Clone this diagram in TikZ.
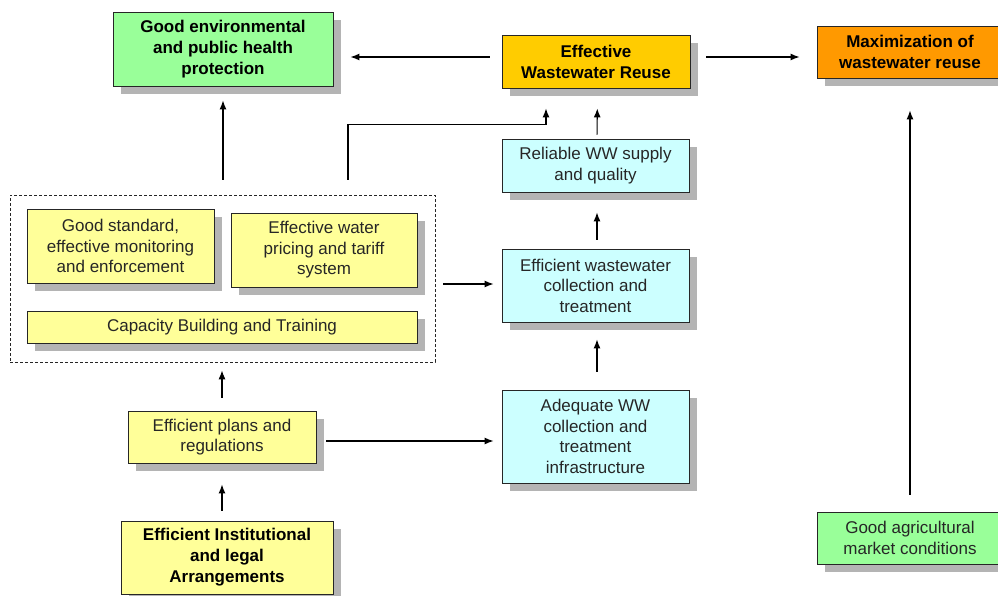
\documentclass[tikz,border=0pt]{standalone}
\usepackage{fontspec}
\setmainfont{Liberation Sans}
\usetikzlibrary{arrows.meta,shadows}

\definecolor{boxgreen}{HTML}{99FF99}
\definecolor{boxgold}{HTML}{FFCC00}
\definecolor{boxorange}{HTML}{FF9900}
\definecolor{boxyellow}{HTML}{FFFF99}
\definecolor{boxcyan}{HTML}{CCFFFF}
\definecolor{shade}{HTML}{B4B4B4}
\definecolor{ink}{HTML}{262626}

\tikzset{
  card/.style={draw=ink, line width=0.9pt, align=center, inner sep=0pt,
    text=ink, font=\fontsize{17}{20.5}\selectfont,
    drop shadow={shadow xshift=8pt, shadow yshift=-8pt, fill=shade, opacity=1}},
  keycard/.style={card, text=black, font=\fontsize{17}{21}\selectfont\bfseries},
  arr/.style={draw=black, line width=1.1pt, -{Latex[length=9pt,width=7pt]}},
  group/.style={draw=ink, line width=0.7pt, dash pattern=on 3pt off 2pt,
    inner sep=0pt}
}

\begin{document}
\begin{tikzpicture}[x=1pt,y=-1pt]
\useasboundingbox (0,0) rectangle (998,596);

% top row of outcomes
\node[keycard, fill=boxgreen, minimum width=220pt, minimum height=74pt]
  (env) at (223,49) {Good environmental\\and public health\\protection};
\node[keycard, fill=boxgold, minimum width=188pt, minimum height=53pt]
  (reuse) at (596,61.5) {Effective\\Wastewater Reuse};
\node[keycard, fill=boxorange, minimum width=186pt, minimum height=52pt]
  (maxi) at (910,52) {Maximization of\\wastewater reuse};

% centre column
\node[card, fill=boxcyan, minimum width=187pt, minimum height=53pt]
  (supply) at (595.5,165.5) {Reliable WW supply\\and quality};
\node[card, fill=boxcyan, minimum width=187pt, minimum height=73pt]
  (collect) at (595.5,285.5) {Efficient wastewater\\collection and\\treatment};
\node[card, fill=boxcyan, minimum width=187pt, minimum height=93pt]
  (infra) at (595.5,436.5) {Adequate WW\\collection and\\treatment\\infrastructure};

% grouped enabling measures
\node[group, minimum width=425pt, minimum height=167pt]
  (grp) at (222.5,278.5) {};
\node[card, fill=boxyellow, minimum width=187pt, minimum height=74pt]
  (std) at (120.5,246) {Good standard,\\effective monitoring\\and enforcement};
\node[card, fill=boxyellow, minimum width=186pt, minimum height=74pt]
  (price) at (324,250) {Effective water\\pricing and tariff\\system};
\node[card, fill=boxyellow, minimum width=390pt, minimum height=32pt]
  (cap) at (222,327) {Capacity Building and Training};

% lower left
\node[card, fill=boxyellow, minimum width=188pt, minimum height=52pt]
  (plans) at (222,437) {Efficient plans and\\regulations};
\node[keycard, fill=boxyellow, minimum width=212pt, minimum height=73pt]
  (inst) at (227,557.5) {Efficient Institutional\\and legal\\Arrangements};

% lower right
\node[card, fill=boxgreen, minimum width=186pt, minimum height=52pt]
  (agri) at (910,538) {Good agricultural\\market conditions};

% connectors
\draw[arr, shorten <=12pt, shorten >=17pt]
  ([yshift=4.5pt]reuse.west) -- ([yshift=4.5pt]reuse.west -| env.east);
\draw[arr, shorten <=16pt, shorten >=17pt]
  ([yshift=4.5pt]reuse.east) -- ([yshift=4.5pt]reuse.east -| maxi.west);
\draw[arr, shorten <=15pt, shorten >=14pt]
  (grp.north -| env.south) -- (env.south);
\draw[arr, shorten <=15pt, shorten >=20pt]
  ([xshift=125.5pt]grp.north) -- ++(0,-70) -| ([xshift=-50pt]reuse.south);
\draw[arr, shorten <=4pt, shorten >=20pt]
  ([xshift=1.5pt]supply.north) -- ([xshift=1.5pt]reuse.south);
\draw[arr, shorten <=9pt, shorten >=20pt]
  ([xshift=1.5pt]collect.north) -- ([xshift=1.5pt]supply.south);
\draw[arr, shorten <=18pt, shorten >=17pt]
  ([xshift=1.5pt]infra.north) -- ([xshift=1.5pt]collect.south);
\draw[arr, shorten <=8pt, shorten >=8pt]
  ([yshift=1.5pt]collect.west -| grp.east) -- ([yshift=1.5pt]collect.west);
\draw[arr, shorten <=10pt, shorten >=8pt]
  ([yshift=-4pt]plans.east) -- ([yshift=-4pt]plans.east -| infra.west);
\draw[arr, shorten <=13pt, shorten >=8pt]
  (plans.north) -- (plans.north |- grp.south);
\draw[arr, shorten <=10pt, shorten >=21pt]
  (inst.north -| plans.south) -- (plans.south);
\draw[arr, shorten <=17pt, shorten >=32pt]
  (agri.north) -- (maxi.south);
\end{tikzpicture}
\end{document}
